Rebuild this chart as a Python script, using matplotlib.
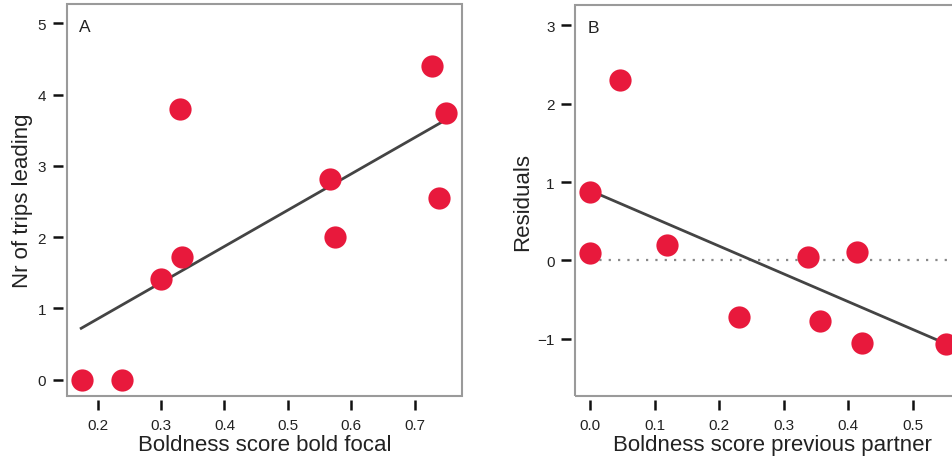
import matplotlib.pyplot as plt
from matplotlib.patches import Rectangle

plt.rcParams['font.family'] = ['Liberation Sans', 'DejaVu Sans']

# Panel A: boldness of bold focal vs number of trips leading
bold_focal = [0.175, 0.239, 0.300, 0.330, 0.333, 0.567, 0.575, 0.728, 0.749, 0.738]
trips_leading = [0.0, 0.0, 1.41, 3.80, 1.72, 2.82, 2.00, 4.40, 3.74, 2.55]
fit_a_x = [0.174, 0.75]
fit_a_y = [0.72, 3.65]

# Panel B: boldness of previous partner vs residuals
prev_partner = [0.0, 0.0, 0.046, 0.119, 0.231, 0.337, 0.356, 0.413, 0.421, 0.551]
residuals = [0.87, 0.09, 2.30, 0.195, -0.72, 0.05, -0.77, 0.105, -1.05, -1.06]
fit_b_x = [0.0, 0.551]
fit_b_y = [0.89, -1.06]

dot_red = '#e8193c'
box_gray = '#9a9a9a'
line_gray = '#444444'

fig = plt.figure(figsize=(9.53, 4.64), dpi=100)
ax_a = fig.add_axes([0.0703, 0.1444, 0.4145, 0.8448])
ax_b = fig.add_axes([0.6037, 0.1438, 0.4145, 0.8432])


def r_style(ax):
    # R-like look: gray box, detached black ticks
    for side in ['left', 'bottom']:
        ax.spines[side].set_position(('outward', 3))
        ax.spines[side].set_color('none')
    for side in ['top', 'right']:
        ax.spines[side].set_visible(False)
    ax.add_patch(Rectangle((0, 0), 1, 1, transform=ax.transAxes, fill=False,
                           ec=box_gray, lw=1.5, clip_on=False, zorder=5))
    ax.tick_params(direction='out', length=7, width=1.8, labelsize=11,
                   color='#111111', labelcolor='#222222')
    ax.tick_params(axis='x', pad=6)
    ax.tick_params(axis='y', pad=5)


# --- panel A ---
ax_a.plot(fit_a_x, fit_a_y, color=line_gray, lw=2, zorder=2)
ax_a.plot(bold_focal, trips_leading, 'o', ms=16, color=dot_red, mec='none', zorder=3)
ax_a.set_xlim(0.1516, 0.7746)
ax_a.set_ylim(-0.23, 5.27)
ax_a.set_xticks([0.2, 0.3, 0.4, 0.5, 0.6, 0.7])
ax_a.set_yticks([0, 1, 2, 3, 4, 5])
r_style(ax_a)
ax_a.set_xlabel('Boldness score bold focal', fontsize=16, color='#222222', labelpad=1)
ax_a.set_ylabel('Nr of trips leading', fontsize=16, color='#222222', labelpad=3)
ax_a.text(0.03, 0.962, 'A', transform=ax_a.transAxes, fontsize=12.5,
          va='top', ha='left', color='#222222')

# --- panel B ---
ax_b.plot([0.0, 0.7], [0, 0], color='#888888', lw=1.6, ls=(0, (1, 3.2)), zorder=1)
ax_b.plot(fit_b_x, fit_b_y, color=line_gray, lw=2, zorder=2)
ax_b.plot(prev_partner, residuals, 'o', ms=16, color=dot_red, mec='none', zorder=3)
ax_b.set_xlim(-0.0233, 0.589)
ax_b.set_ylim(-1.73, 3.255)
ax_b.set_xticks([0.0, 0.1, 0.2, 0.3, 0.4, 0.5])
ax_b.set_yticks([-1, 0, 1, 2, 3])
r_style(ax_b)
ax_b.set_xlabel('Boldness score previous partner', fontsize=16, color='#222222', labelpad=1)
ax_b.set_ylabel('Residuals', fontsize=16, color='#222222', labelpad=3)
ax_b.text(0.03, 0.962, 'B', transform=ax_b.transAxes, fontsize=12.5,
          va='top', ha='left', color='#222222')

fig.savefig('out.png', dpi=100)
